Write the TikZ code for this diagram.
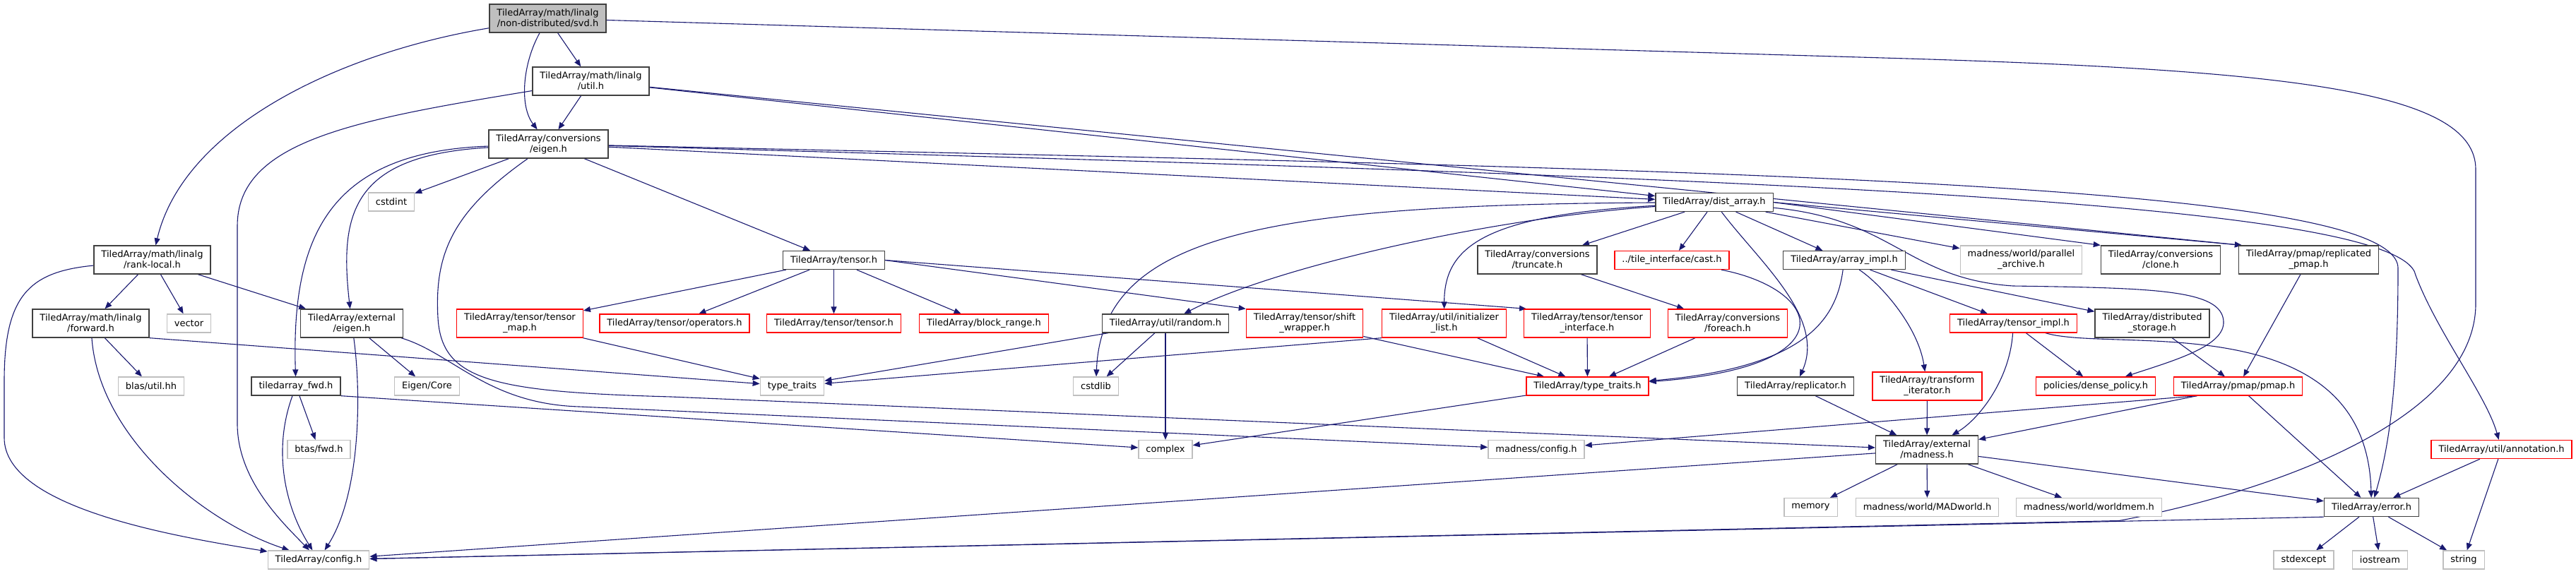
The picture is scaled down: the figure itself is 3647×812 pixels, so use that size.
\documentclass[tikz,border=0pt]{standalone}
\usepackage{fontspec}
\setmainfont{DejaVu Sans}
\usepackage{xcolor}
\usepackage{tikz}
\usetikzlibrary{arrows.meta, backgrounds}
\definecolor{edgeblue}{HTML}{191970}
\definecolor{sysgray}{HTML}{BFBFBF}
\definecolor{docgray}{HTML}{404040}
\definecolor{cutred}{HTML}{FF0000}
\tikzset{
  hdr/.style={draw=docgray, fill=white, line width=1.3pt, align=center, inner xsep=10.5pt, inner ysep=2pt, minimum height=26pt, font=\fontsize{13}{15}\selectfont},
  twoline/.style={minimum height=40pt},
  sysfile/.style={hdr, draw=sysgray},
  cutfile/.style={hdr, draw=cutred},
  mainfile/.style={hdr, fill=sysgray},
  dep/.style={-{Triangle[length=10pt, width=8pt]}, line width=1.1pt, draw=edgeblue}
}

\begin{document}
\begin{tikzpicture}[x=1pt, y=-1pt]
    \useasboundingbox (0,0) rectangle (3647,812);

    \node[mainfile, twoline] (svd) at (775.5,26) {TiledArray/math/linalg\\/non-distributed/svd.h};
    \node[hdr, twoline] (linutil) at (836.5,115) {TiledArray/math/linalg\\/util.h};
    \node[hdr, twoline] (conveigen) at (776.5,204) {TiledArray/conversions\\/eigen.h};
    \node[sysfile] (cstdint) at (554,286) {cstdint};
    \node[hdr] (distarray) at (2427,286.5) {TiledArray/dist\_array.h};

    \node[hdr, twoline] (ranklocal) at (215.5,368) {TiledArray/math/linalg\\/rank-local.h};
    \node[hdr] (tensorh) at (1180.5,368.5) {TiledArray/tensor.h};
    \node[hdr, twoline] (truncate) at (2176.5,368) {TiledArray/conversions\\/truncate.h};
    \node[cutfile] (cast) at (2367,368.5) {../tile\_interface/cast.h};
    \node[hdr] (arrayimpl) at (2611,368.5) {TiledArray/array\_impl.h};
    \node[sysfile, twoline] (pararchive) at (2861.5,368) {madness/world/parallel\\\_archive.h};
    \node[hdr, twoline] (clone) at (3059,368) {TiledArray/conversions\\/clone.h};
    \node[hdr, twoline] (reppmap) at (3268.5,368) {TiledArray/pmap/replicated\\\_pmap.h};

    \node[hdr, twoline] (forward) at (128.5,458) {TiledArray/math/linalg\\/forward.h};
    \node[sysfile] (vector) at (267.5,458) {vector};
    \node[hdr, twoline] (exteigen) at (498,458) {TiledArray/external\\/eigen.h};
    \node[cutfile, twoline] (tensormap) at (736,458) {TiledArray/tensor/tensor\\\_map.h};
    \node[cutfile] (operators) at (955,458) {TiledArray/tensor/operators.h};
    \node[cutfile] (tensortensor) at (1180.5,458) {TiledArray/tensor/tensor.h};
    \node[cutfile] (blockrange) at (1393,458) {TiledArray/block\_range.h};
    \node[hdr] (random) at (1650,458) {TiledArray/util/random.h};
    \node[cutfile, twoline] (shiftwrap) at (1847,458) {TiledArray/tensor/shift\\\_wrapper.h};
    \node[cutfile, twoline] (initlist) at (2044.5,458) {TiledArray/util/initializer\\\_list.h};
    \node[cutfile, twoline] (tensorif) at (2247,458) {TiledArray/tensor/tensor\\\_interface.h};
    \node[cutfile, twoline] (foreach) at (2446,458) {TiledArray/conversions\\/foreach.h};
    \node[cutfile] (tensorimpl) at (2850.5,458) {TiledArray/tensor\_impl.h};
    \node[hdr, twoline] (diststorage) at (3047,458) {TiledArray/distributed\\\_storage.h};

    \node[sysfile] (blasutil) at (214,547) {blas/util.hh};
    \node[hdr] (tafwd) at (419,547) {tiledarray\_fwd.h};
    \node[sysfile] (eigencore) at (604.5,547) {Eigen/Core};
    \node[sysfile] (stdtraits) at (1121.5,547) {type\_traits};
    \node[sysfile] (cstdlib) at (1551.5,547) {cstdlib};
    \node[cutfile] (tatraits) at (2247.5,547) {TiledArray/type\_traits.h};
    \node[hdr] (replicator) at (2542,547) {TiledArray/replicator.h};
    \node[cutfile, twoline] (transiter) at (2728.5,547) {TiledArray/transform\\\_iterator.h};
    \node[cutfile] (densepolicy) at (2967,547) {policies/dense\_policy.h};
    \node[cutfile] (pmap) at (3168.5,547) {TiledArray/pmap/pmap.h};

    \node[sysfile] (btasfwd) at (451.5,636.5) {btas/fwd.h};
    \node[sysfile] (complex) at (1650,636.5) {complex};
    \node[sysfile] (madconfig) at (2175,636.5) {madness/config.h};
    \node[hdr, twoline] (extmadness) at (2728,637) {TiledArray/external\\/madness.h};
    \node[cutfile] (annotation) at (3541.5,636.5) {TiledArray/util/annotation.h};

    \node[sysfile] (memory) at (2563.5,718.5) {memory};
    \node[sysfile] (madworld) at (2728.5,718.5) {madness/world/MADworld.h};
    \node[sysfile] (worldmem) at (2957.5,718.5) {madness/world/worldmem.h};
    \node[hdr] (error) at (3357.5,718.5) {TiledArray/error.h};

    \node[sysfile] (config) at (451,793) {TiledArray/config.h};
    \node[sysfile] (stdexcept) at (3261.5,793) {stdexcept};
    \node[sysfile] (iostream) at (3369.5,793) {iostream};
    \node[sysfile] (string) at (3488,793) {string};

    \begin{scope}[on background layer]
    \draw[dep] (svd) .. controls (480,75) and (260,180) .. (ranklocal);
    \draw[dep] (svd) -- (linutil);
    \draw[dep] (svd) .. controls (740,90) and (735,150) .. (conveigen);
    \draw[dep] (svd) -- (2700,83) .. controls (3250,100) and (3505,130) .. (3505,240) -- (3505,430) .. controls (3505,600) and (3200,700) .. (3000,737.5) -- (config);

    \draw[dep] (linutil) -- (conveigen);
    \draw[dep] (linutil) .. controls (500,170) and (336,200) .. (336,320) -- (336,600) .. controls (336,680) and (400,740) .. (config);
    \draw[dep] (linutil) -- (distarray);
    \draw[dep] (linutil) -- ([xshift=5pt]reppmap.north west);

    \draw[dep] (conveigen) -- (cstdint);
    \draw[dep] (conveigen) -- (tensorh);
    \draw[dep] (conveigen) -- (distarray);
    \draw[dep] (conveigen) .. controls (500,220) and (480,300) .. (exteigen);
    \draw[dep] (conveigen) .. controls (470,215) and (412,330) .. (tafwd);
    \draw[dep] (conveigen) .. controls (640,300) and (615,360) .. (620,450) .. controls (625,540) and (700,555) .. (950,562) -- (extmadness);
    \draw[dep] (conveigen) .. controls (2400,240) and (3395,255) .. (3395,380) .. controls (3395,560) and (3380,640) .. (error);
    \draw[dep] (conveigen) .. controls (2400,250) and (3400,280) .. (3420,390) .. controls (3450,470) and (3520,560) .. (annotation);

    \draw[dep] (ranklocal) .. controls (40,385) and (6,420) .. (6,540) -- (6,620) .. controls (6,720) and (250,760) .. (config);
    \draw[dep] (ranklocal) -- (forward);
    \draw[dep] (ranklocal) -- (vector);
    \draw[dep] (ranklocal) -- (exteigen);

    \draw[dep] (forward) -- (blasutil);
    \draw[dep] (forward) .. controls (140,620) and (290,740) .. (config);
    \draw[dep] (forward.south east) -- (stdtraits);

    \draw[dep] (exteigen) -- (eigencore);
    \draw[dep] (exteigen) .. controls (512,560) and (510,700) .. (config);
    \draw[dep] (exteigen) .. controls (640,500) and (690,572) .. (820,576) -- (madconfig);

    \draw[dep] (tafwd) -- (btasfwd);
    \draw[dep] (tafwd) .. controls (385,640) and (405,720) .. (config);
    \draw[dep] (tafwd.south east) -- (complex);

    \draw[dep] (tensorh) -- (tensormap);
    \draw[dep] (tensorh) -- (operators);
    \draw[dep] (tensorh) -- (tensortensor);
    \draw[dep] (tensorh) -- (blockrange);
    \draw[dep] (tensorh.east) -- (shiftwrap.north west);
    \draw[dep] (tensorh.east) -- ([xshift=4pt]tensorif.north west);
    \draw[dep] (tensormap) -- (stdtraits);

    \draw[dep] (random) -- (stdtraits);
    \draw[dep] (random) -- (cstdlib);
    \draw[dep] (random) -- (complex);

    \draw[dep] (shiftwrap) -- (tatraits);
    \draw[dep] (initlist.south west) -- (stdtraits);
    \draw[dep] (initlist) -- (tatraits);
    \draw[dep] (tensorif) -- (tatraits);
    \draw[dep] (foreach) -- (tatraits);
    \draw[dep] (truncate) -- (foreach);
    \draw[dep] (cast) .. controls (2580,410) and (2620,520) .. (tatraits);
    \draw[dep] (tatraits) -- (complex);

    \draw[dep] (distarray) .. controls (1800,290) and (1560,330) .. (cstdlib);
    \draw[dep] (distarray) .. controls (2100,310) and (1800,380) .. (random);
    \draw[dep] (distarray) .. controls (2100,305) and (2045,350) .. (initlist);
    \draw[dep] (distarray) -- (truncate);
    \draw[dep] (distarray) -- (cast);
    \draw[dep] (distarray) .. controls (2490,370) and (2585,450) .. (replicator);
    \draw[dep] (distarray) -- (arrayimpl);
    \draw[dep] (distarray) -- (pararchive);
    \draw[dep] (distarray.east) -- (clone.north west);
    \draw[dep] (distarray.east) -- ([xshift=5pt]reppmap.north west);
    \draw[dep] (distarray) .. controls (2680,310) and (2700,395) .. (2850,405) .. controls (3050,408) and (3145,410) .. (3148,455) .. controls (3150,490) and (3080,510) .. (densepolicy);

    \draw[dep] (arrayimpl) .. controls (2600,450) and (2560,520) .. (tatraits);
    \draw[dep] (arrayimpl) .. controls (2660,400) and (2715,460) .. (transiter);
    \draw[dep] (arrayimpl) -- (tensorimpl);
    \draw[dep] (arrayimpl) -- (diststorage);

    \draw[dep] (tensorimpl) .. controls (2845,540) and (2800,595) .. (extmadness);
    \draw[dep] (tensorimpl) -- (densepolicy);
    \draw[dep] (tensorimpl) .. controls (2990,500) and (3350,430) .. (error);

    \draw[dep] (diststorage) -- (pmap);
    \draw[dep] (reppmap) -- (pmap);
    \draw[dep] ([xshift=-58pt]pmap.south) -- (extmadness);
    \draw[dep] ([xshift=-58pt]pmap.south) -- (madconfig);
    \draw[dep] (pmap) -- (error);

    \draw[dep] (replicator) -- (extmadness);
    \draw[dep] (transiter) -- (extmadness);
    \draw[dep] (extmadness) -- (memory);
    \draw[dep] (extmadness) -- (madworld);
    \draw[dep] (extmadness) -- (worldmem);
    \draw[dep] (extmadness) -- (error);
    \draw[dep] (extmadness) -- (config);

    \draw[dep] (annotation) -- (error);
    \draw[dep] (annotation) -- (string);
    \draw[dep] (error.south west) -- (config);
    \draw[dep] (error) -- (stdexcept);
    \draw[dep] (error) -- (iostream);
    \draw[dep] (error) -- (string);
    \end{scope}
\end{tikzpicture}
\end{document}
